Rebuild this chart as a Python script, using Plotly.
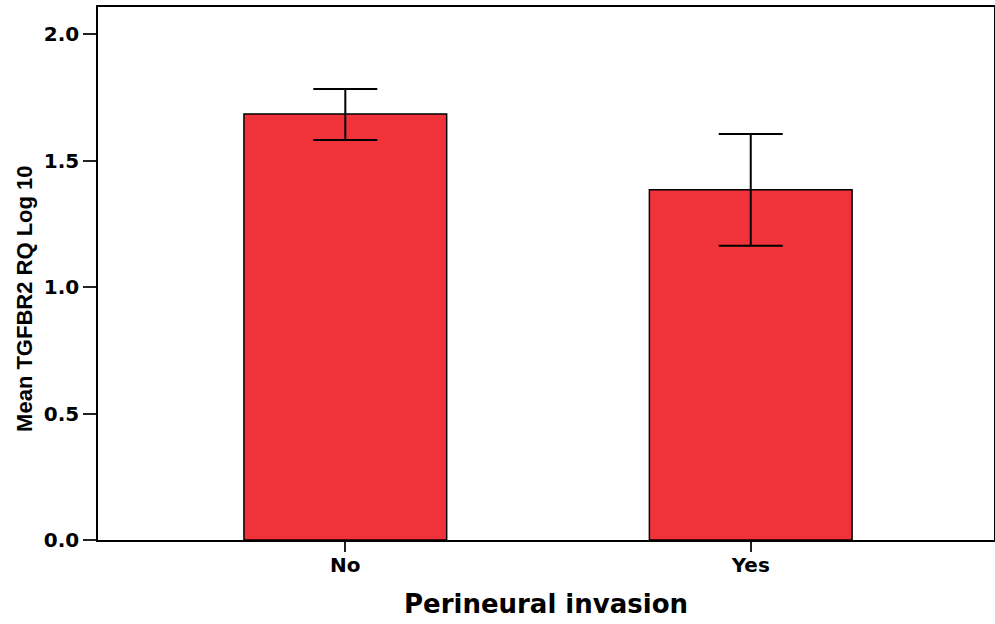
import plotly.graph_objects as go

categories = ["No", "Yes"]
means = [1.684, 1.385]
upper = [1.783, 1.605]
lower = [1.581, 1.163]
y_title = "Mean TGFBR2 RQ Log 10"
x_title = "Perineural invasion"

err_plus = [u - m for u, m in zip(upper, means)]
err_minus = [m - l for m, l in zip(means, lower)]

fig = go.Figure()
fig.add_trace(go.Bar(
    x=categories, y=means, width=0.5,
    marker=dict(color="#F0333A", line=dict(color="black", width=1.5)),
    error_y=dict(type="data", symmetric=False, array=err_plus, arrayminus=err_minus,
                 color="black", thickness=2, width=32),
))

fig.update_layout(
    width=995, height=624,
    margin=dict(l=98, r=1, t=7, b=84),
    plot_bgcolor="white", paper_bgcolor="white",
    showlegend=False,
    font=dict(family="Liberation Sans", color="black"),
)
fig.update_xaxes(
    range=[-0.61, 1.6], automargin=False,
    showline=True, linecolor="black", linewidth=1.5, mirror=True,
    ticks="outside", ticklen=10, tickcolor="#222", tickwidth=1.5, ticklabelstandoff=-4,
    tickfont=dict(family="DejaVu Sans", size=20, color="black", weight="bold"),
    title=dict(text=x_title,
               font=dict(family="DejaVu Sans", size=26, color="black", weight="bold"), standoff=19),
)
fig.update_yaxes(
    range=[0, 2.107], automargin=False,
    tickvals=[0, 0.5, 1.0, 1.5, 2.0], ticktext=["0.0", "0.5", "1.0", "1.5", "2.0"],
    showline=True, linecolor="black", linewidth=1.5, mirror=True, showgrid=False, zeroline=False,
    ticks="outside", ticklen=13, tickcolor="#222", tickwidth=1.5, ticklabelstandoff=0,
    tickfont=dict(family="DejaVu Sans", size=20, color="black", weight="bold"),
)
fig.add_annotation(
    text=y_title, textangle=-90, showarrow=False,
    xref="paper", x=0, xanchor="center", xshift=-73,
    yref="y", y=0.953, yanchor="middle",
    font=dict(family="Liberation Sans", size=22, color="black", weight="bold"),
)

fig.write_html("out.html", config={"displayModeBar": False},
               post_script="document.body.style.margin='0';document.body.style.overflow='hidden';")
